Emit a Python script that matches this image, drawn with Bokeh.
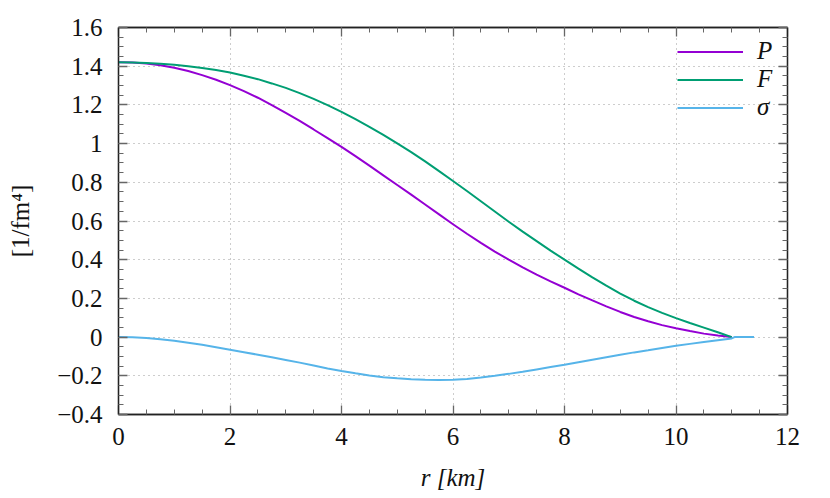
from bokeh.plotting import figure
from bokeh.models import LinearAxis, FixedTicker, Legend, LegendItem, Range1d
from bokeh.embed import file_html
from bokeh.resources import INLINE

# ---- data ----
r = [0, 0.25, 0.5, 0.75, 1, 1.25, 1.5, 1.75, 2, 2.25, 2.5, 2.75, 3, 3.25, 3.5, 3.75,
     4, 4.25, 4.5, 4.75, 5, 5.25, 5.5, 5.75, 6, 6.25, 6.5, 6.75, 7, 7.25, 7.5, 7.75,
     8, 8.25, 8.5, 8.75, 9, 9.25, 9.5, 9.75, 10, 10.25, 10.5, 10.75, 11.0]
P = [1.420, 1.419, 1.414, 1.405, 1.392, 1.375, 1.354, 1.330, 1.302, 1.271, 1.237, 1.199,
     1.159, 1.117, 1.073, 1.028, 0.983, 0.935, 0.886, 0.836, 0.786, 0.736, 0.685, 0.634,
     0.583, 0.534, 0.487, 0.442, 0.400, 0.360, 0.323, 0.288, 0.255, 0.221, 0.190, 0.159,
     0.130, 0.104, 0.082, 0.062, 0.046, 0.031, 0.018, 0.008, 0.0]
F = [1.420, 1.419, 1.417, 1.413, 1.408, 1.400, 1.391, 1.380, 1.367, 1.351, 1.333, 1.311,
     1.288, 1.261, 1.231, 1.199, 1.164, 1.126, 1.087, 1.045, 1.001, 0.956, 0.908, 0.858,
     0.807, 0.755, 0.702, 0.649, 0.596, 0.545, 0.496, 0.447, 0.400, 0.354, 0.309, 0.266,
     0.225, 0.188, 0.155, 0.125, 0.098, 0.073, 0.049, 0.025, 0.0]
r_sigma = [0, 0.25, 0.5, 0.75, 1, 1.25, 1.5, 1.75, 2, 2.25, 2.5, 2.75, 3, 3.25, 3.5, 3.75,
           4, 4.25, 4.5, 4.75, 5, 5.25, 5.5, 5.75, 6, 6.25, 6.5, 6.75, 7, 7.25, 7.5, 7.75,
           8, 8.25, 8.5, 8.75, 9, 9.25, 9.5, 9.75, 10, 10.25, 10.5, 10.75, 11.0, 11.05, 11.4]
sigma = [0.000, -0.001, -0.005, -0.011, -0.019, -0.029, -0.040, -0.052, -0.065, -0.078,
         -0.091, -0.104, -0.118, -0.132, -0.147, -0.162, -0.175, -0.187, -0.198, -0.207,
         -0.213, -0.218, -0.221, -0.222, -0.221, -0.216, -0.209, -0.200, -0.190, -0.179,
         -0.167, -0.155, -0.143, -0.130, -0.117, -0.104, -0.091, -0.079, -0.068, -0.056,
         -0.045, -0.035, -0.025, -0.016, -0.007, 0.0, 0.0]

series_labels = ["P", "F", "σ"]
series_colors = ["#9400d3", "#009e73", "#56b4e9"]

x_ticks = [0, 2, 4, 6, 8, 10, 12]
x_tick_labels = ["0", "2", "4", "6", "8", "10", "12"]
y_ticks = [-0.4, -0.2, 0.0, 0.2, 0.4, 0.6, 0.8, 1.0, 1.2, 1.4, 1.6]
y_tick_labels = ["−0.4", "−0.2", "0", "0.2", "0.4", "0.6", "0.8", "1", "1.2", "1.4", "1.6"]
x_label = "r [km]"
y_label = "[1/fm⁴]"

FONT = "Liberation Serif"
FS = "25px"

x_minor = [i * 0.5 for i in range(0, 25)]
y_minor = [round(-0.4 + i * 0.05, 4) for i in range(0, 41)]

p = figure(width=814, height=498, output_backend="svg", toolbar_location=None,
           x_range=Range1d(0, 12), y_range=Range1d(-0.4, 1.6),
           min_border_left=118, min_border_right=27, min_border_top=27, min_border_bottom=84)

p.background_fill_color = "white"
p.border_fill_color = "white"
p.outline_line_color = "#222222"
p.outline_line_width = 1.3

xt = FixedTicker(ticks=x_ticks, minor_ticks=x_minor)
yt = FixedTicker(ticks=y_ticks, minor_ticks=y_minor)


def style_axis(ax, show_labels):
    ax.major_tick_in = 9
    ax.major_tick_out = 0
    ax.minor_tick_in = 5
    ax.minor_tick_out = 0
    ax.major_tick_line_color = "#666666"
    ax.minor_tick_line_color = "#666666"
    ax.major_tick_line_width = 1.3
    ax.minor_tick_line_width = 1
    ax.axis_line_color = "#222222"
    ax.axis_line_width = 1.3
    ax.major_label_text_font = FONT
    ax.axis_label_text_font = FONT
    ax.axis_label_text_font_size = FS
    ax.axis_label_text_font_style = "italic"
    ax.axis_label_text_color = "#111111"
    ax.major_label_text_color = "#111111"
    if show_labels:
        ax.major_label_text_font_size = FS
    else:
        ax.major_label_text_font_size = "0px"
        ax.major_label_text_color = None


p.xaxis.ticker = xt
p.yaxis.ticker = yt
style_axis(p.xaxis[0], True)
style_axis(p.yaxis[0], True)
p.xaxis.major_label_overrides = {float(t): s for t, s in zip(x_ticks, x_tick_labels)}
p.yaxis.major_label_overrides = {float(t): s for t, s in zip(y_ticks, y_tick_labels)}
p.xaxis.major_label_standoff = 13
p.yaxis.major_label_standoff = 16
p.xaxis.axis_label = x_label
p.yaxis.axis_label = y_label
p.yaxis.axis_label_text_font_style = "normal"
p.xaxis.axis_label_standoff = 16
p.yaxis.axis_label_standoff = 20

top = LinearAxis(ticker=xt)
right = LinearAxis(ticker=yt)
style_axis(top, False)
style_axis(right, False)
top.major_label_standoff = 0
right.major_label_standoff = 0
p.add_layout(top, "above")
p.add_layout(right, "right")

p.xgrid.grid_line_color = "#9a9a9a"
p.ygrid.grid_line_color = "#9a9a9a"
p.xgrid.grid_line_dash = "1 4"
p.ygrid.grid_line_dash = "1 4"
p.xgrid.grid_line_width = 1
p.ygrid.grid_line_width = 1

rP = p.line(r, P, line_color=series_colors[0], line_width=2)
rF = p.line(r, F, line_color=series_colors[1], line_width=2)
rS = p.line(r_sigma, sigma, line_color=series_colors[2], line_width=2)

legend = Legend(items=[LegendItem(label=series_labels[0], renderers=[rP]),
                       LegendItem(label=series_labels[1], renderers=[rF]),
                       LegendItem(label=series_labels[2], renderers=[rS])],
                location="top_right")
legend.margin = 0
legend.padding = 10
legend.spacing = 0
legend.glyph_width = 66
legend.glyph_height = 25
legend.label_height = 25
legend.label_standoff = 14
legend.label_text_font = FONT
legend.label_text_font_size = FS
legend.label_text_font_style = "italic"
legend.label_text_color = "#111111"
legend.border_line_alpha = 0
legend.background_fill_alpha = 0
p.add_layout(legend, "center")

open("out.html", "w").write(file_html(p, INLINE))
